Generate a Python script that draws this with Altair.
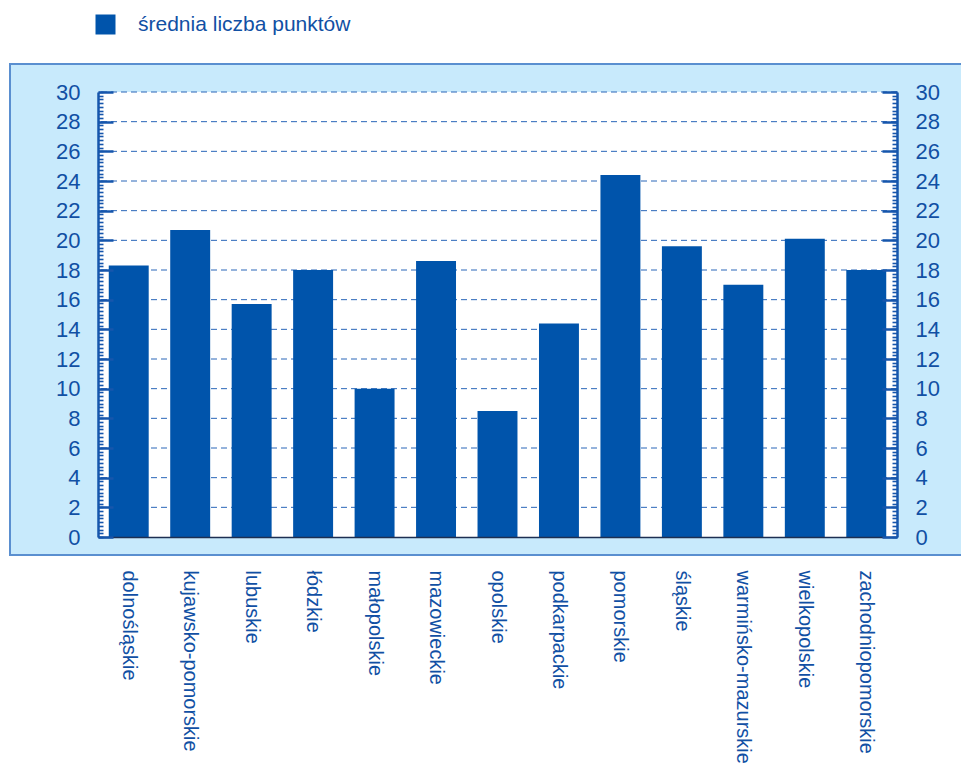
import altair as alt
import pandas as pd

# ---- data ----
categories = ["dolnośląskie", "kujawsko-pomorskie", "lubuskie", "łódzkie", "małopolskie",
              "mazowieckie", "opolskie", "podkarpackie", "pomorskie", "śląskie",
              "warmińsko-mazurskie", "wielkopolskie", "zachodniopomorskie"]
values = [18.3, 20.7, 15.7, 18.0, 10.0, 18.6, 8.5, 14.4, 24.4, 19.6, 17.0, 20.1, 18.0]
series_name = "średnia liczba punktów"
major_ticks = [0, 2, 4, 6, 8, 10, 12, 14, 16, 18, 20, 22, 24, 26, 28, 30]
grid_values = [2, 4, 6, 8, 10, 12, 14, 16, 18, 20, 22, 24, 26, 28, 30]
minor_ticks = [i / 4 for i in range(0, 121)]

# ---- style ----
W, H = 799, 445
BAR = "#0054ab"
PANEL = "#c8eafc"
BORDER = "#5a8fd0"
AXC = "#1656ac"
TXT = "#1150a4"
GRID = "#2a66b8"
FONT = "Liberation Sans"

df = pd.DataFrame({"region": categories, "value": values, "series": [series_name] * len(categories)})
grid_df = pd.DataFrame({"g": grid_values})
minor_df = pd.DataFrame({"t": minor_ticks})
major_df = pd.DataFrame({"t": major_ticks})

yscale = alt.Scale(domain=[0, 30], nice=False, zero=True)
xscale = alt.Scale(paddingInner=0.35, paddingOuter=0.175)


def yaxis(orient, vals, **kw):
    return alt.Axis(orient=orient, values=vals, grid=False, title=None, zindex=1, **kw)


label_kw = dict(labelFont=FONT, labelFontSize=22, labelColor=TXT, labelPadding=18)

axis_left_labels = yaxis("left", major_ticks, ticks=False, domain=True, domainColor=AXC,
                         domainWidth=2.5, **label_kw)
axis_right_labels = yaxis("right", major_ticks, ticks=False, domain=True, domainColor=AXC,
                          domainWidth=2.5, **label_kw)
axis_left_major = yaxis("left", major_ticks, offset=-15, tickSize=15, tickWidth=2.5,
                        tickColor=AXC, labels=False, domain=False)
axis_right_major = yaxis("right", major_ticks, offset=-15, tickSize=15, tickWidth=2.5,
                         tickColor=AXC, labels=False, domain=False)
axis_left_minor = yaxis("left", minor_ticks, offset=-5, tickSize=5, tickWidth=1.6,
                        tickColor=AXC, labels=False, domain=False)
axis_right_minor = yaxis("right", minor_ticks, offset=-5, tickSize=5, tickWidth=1.6,
                         tickColor=AXC, labels=False, domain=False)

one = alt.Data(values=[{}])

panel = alt.Chart(one).mark_rect(fill=PANEL, stroke=BORDER, strokeWidth=2).encode(
    x=alt.value(-88), x2=alt.value(W + 120), y=alt.value(-28), y2=alt.value(H + 18)
)
plot_bg = alt.Chart(one).mark_rect(fill="white").encode(
    x=alt.value(0), x2=alt.value(W), y=alt.value(0), y2=alt.value(H)
)

grid = alt.Chart(grid_df).mark_rule(color=GRID, strokeDash=[6, 4], strokeWidth=1).encode(
    y=alt.Y("g:Q", scale=yscale, axis=axis_left_labels)
)

bars = alt.Chart(df).mark_bar(opacity=1).encode(
    x=alt.X("region:N", sort=categories, scale=xscale,
            axis=alt.Axis(title=None, ticks=False, domain=True, domainColor="#1d2f52",
                          domainWidth=1.5, labelAngle=90, labelAlign="left",
                          labelBaseline="middle", labelPadding=33, labelFont=FONT,
                          labelFontSize=20, labelColor=TXT, labelLimit=0, zindex=1)),
    y=alt.Y("value:Q", scale=yscale, axis=axis_right_labels),
    color=alt.Color("series:N", scale=alt.Scale(range=[BAR]),
                    legend=alt.Legend(title=None, orient="none", legendX=-3, legendY=-78,
                                      symbolType="square", symbolSize=400,
                                      symbolStrokeWidth=0, symbolOpacity=1,
                                      labelFont=FONT, labelFontSize=21, labelColor=TXT,
                                      labelOffset=22, labelLimit=0, padding=0)),
)

inv = dict(opacity=0)
l_major = alt.Chart(major_df).mark_point(**inv).encode(y=alt.Y("t:Q", scale=yscale, axis=axis_left_major))
r_major = alt.Chart(major_df).mark_point(**inv).encode(y=alt.Y("t:Q", scale=yscale, axis=axis_right_major))
l_minor = alt.Chart(minor_df).mark_point(**inv).encode(y=alt.Y("t:Q", scale=yscale, axis=axis_left_minor))
r_minor = alt.Chart(minor_df).mark_point(**inv).encode(y=alt.Y("t:Q", scale=yscale, axis=axis_right_minor))

chart = alt.layer(panel, plot_bg, grid, bars, l_major, r_major, l_minor, r_minor).resolve_scale(
    y="shared"
).resolve_axis(y="independent").properties(
    width=W, height=H,
    autosize=alt.AutoSizeParams(type="none"),
    padding={"left": 90, "top": 84, "right": 64, "bottom": 229},
    background="white",
).configure_view(stroke=None, fill=None)

chart.save("out.html", embed_options={"renderer": "svg", "actions": False})
